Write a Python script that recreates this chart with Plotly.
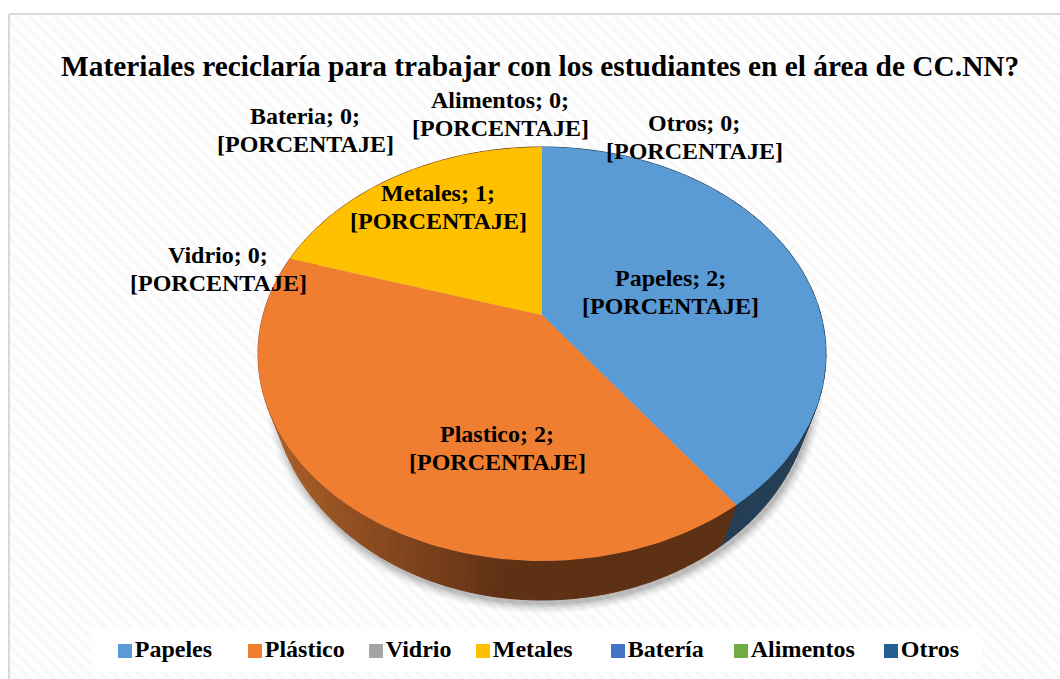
import numpy as np
import plotly.graph_objects as go

# ---- data ----
title_text = "Materiales reciclaría para trabajar con los estudiantes en el área de CC.NN?"
legend_names = ["Papeles", "Plástico", "Vidrio", "Metales", "Batería", "Alimentos", "Otros"]
label_names = ["Papeles", "Plastico", "Vidrio", "Metales", "Bateria", "Alimentos", "Otros"]
label_counts = [2, 2, 0, 1, 0, 0, 0]
slice_values = [38.0, 44.6, 0, 17.4, 0, 0, 0]
slice_colors = ["#5B9BD5", "#F07E31", "#A5A5A5", "#FFC000", "#4472C4", "#70AD47", "#255E91"]
label_placeholder = "[PORCENTAJE]"

# ---- layout constants (pixel-scaled axes) ----
W, H = 1060, 679
APEX = (542, 315)
TOP = dict(cx=542, cy=354, rx=284, ry=207)
BOT = dict(cx=542, cy=384, rx=270, ry=216)
label_pos = [(670, 292), (497, 448), (218, 269), (438, 207), (305, 130), (500, 114), (694, 137)]
legend_icon_x = [125, 255, 376, 483, 618, 741, 891]
FONT = "Liberation Serif"


def pt(e, deg):
    a = np.radians(deg)
    return e["cx"] + e["rx"] * np.sin(a), e["cy"] - e["ry"] * np.cos(a)


def mix(c1, c2, f):
    f = max(0, min(1, f))
    return "rgb(%d,%d,%d)" % tuple(round(c1[i] + (c2[i] - c1[i]) * f) for i in range(3))


def poly(xs, ys, color, line=None):
    return go.Scatter(x=list(xs), y=list(ys), mode="lines", fill="toself", fillcolor=color,
                      line=dict(color=line or color, width=1 if line else 0),
                      hoverinfo="skip", showlegend=False)


fig = go.Figure()

# striped chart area with frame
fig.add_trace(go.Scatter(
    x=[9, 1075, 1075, 9, 9], y=[14, 14, 695, 695, 14], mode="lines", fill="toself",
    fillcolor="white",
    fillpattern=dict(shape="\\", fgcolor="#f3f3f3", bgcolor="#ffffff", size=9, solidity=0.5),
    line=dict(color="#d9d9d9", width=2), hoverinfo="skip", showlegend=False))

# legend backing
fig.add_trace(poly([92, 982, 982, 92, 92], [628, 628, 672, 672, 628], "rgba(255,255,255,0.8)"))

# soft shadow
ts = np.linspace(0, 360, 181)
for grow, alpha in [(9, 0.03), (7, 0.04), (5, 0.05), (3, 0.07), (1, 0.09)]:
    sh = dict(cx=BOT["cx"] + 2, cy=BOT["cy"] + 4, rx=BOT["rx"] + grow, ry=BOT["ry"] + grow)
    p = [pt(sh, t) for t in ts]
    fig.add_trace(poly([q[0] for q in p], [q[1] for q in p], f"rgba(0,0,0,{alpha})"))

# angles of the slices from the values
total = sum(slice_values)
edges = np.concatenate([[0], np.cumsum(slice_values)]) / total * 360

# wall
BLUE_WALL = (36, 62, 86)
OR_LIGHT = (170, 94, 40)
OR_DARK = (94, 48, 20)
for i, v in enumerate(slice_values):
    if v == 0:
        continue
    a0, a1 = edges[i], edges[i + 1]
    steps = max(2, int((a1 - a0) / 2))
    g = np.linspace(a0, a1, steps + 1)
    for s in range(steps):
        t0, t1 = g[s], g[s + 1]
        pa, pb = pt(TOP, t0), pt(TOP, t1)
        pc, pd = pt(BOT, t1 + 1.5), pt(BOT, t0 + 1.5)
        xm = (pa[0] + pb[0]) / 2
        if i == 0:
            col = mix(BLUE_WALL, BLUE_WALL, 0)
        else:
            col = mix(OR_LIGHT, OR_DARK, (xm - 275) / 235)
        fig.add_trace(poly([pa[0], pb[0], pc[0], pd[0], pa[0]],
                           [pa[1], pb[1], pc[1], pd[1], pa[1]], col, col))

# top face slices
for i, v in enumerate(slice_values):
    if v == 0:
        continue
    arc = [pt(TOP, t) for t in np.linspace(edges[i], edges[i + 1], 120)]
    xs = [APEX[0]] + [q[0] for q in arc] + [APEX[0]]
    ys = [APEX[1]] + [q[1] for q in arc] + [APEX[1]]
    fig.add_trace(poly(xs, ys, slice_colors[i]))

# legend entries
for name, col, x in zip(legend_names, slice_colors, legend_icon_x):
    fig.add_trace(go.Scatter(
        x=[x], y=[651], mode="markers+text", text=[f"<b>{name}</b>"], textposition="middle right",
        textfont=dict(family=FONT, size=24, color="black"),
        marker=dict(symbol="square", size=14, color=col), hoverinfo="skip", showlegend=False))

# data labels (two separate lines, to hold the reference's tighter line pitch)
annotations = []
for name, n, (x, y) in zip(label_names, label_counts, label_pos):
    for dy, line in [(-14, f"{name}; {n};"), (14, label_placeholder)]:
        annotations.append(dict(
            x=x, y=y + dy, xref="x", yref="y", showarrow=False, align="center",
            text=f"<b>{line}</b>",
            font=dict(family=FONT, size=24, color="black")))

fig.update_layout(
    width=W, height=H, margin=dict(l=0, r=0, t=0, b=0),
    paper_bgcolor="white", plot_bgcolor="white", showlegend=False,
    xaxis=dict(range=[0, W], visible=False, fixedrange=True),
    yaxis=dict(range=[H, 0], visible=False, fixedrange=True),
    annotations=annotations + [dict(
        x=540, y=66, xref="x", yref="y", showarrow=False,
        text=f"<b>{title_text}</b>", font=dict(family=FONT, size=29.4, color="black"))],
)

fig.write_html("out.html", config=dict(displayModeBar=False),
               post_script="document.body.style.margin='0';document.body.style.overflow='hidden';")
